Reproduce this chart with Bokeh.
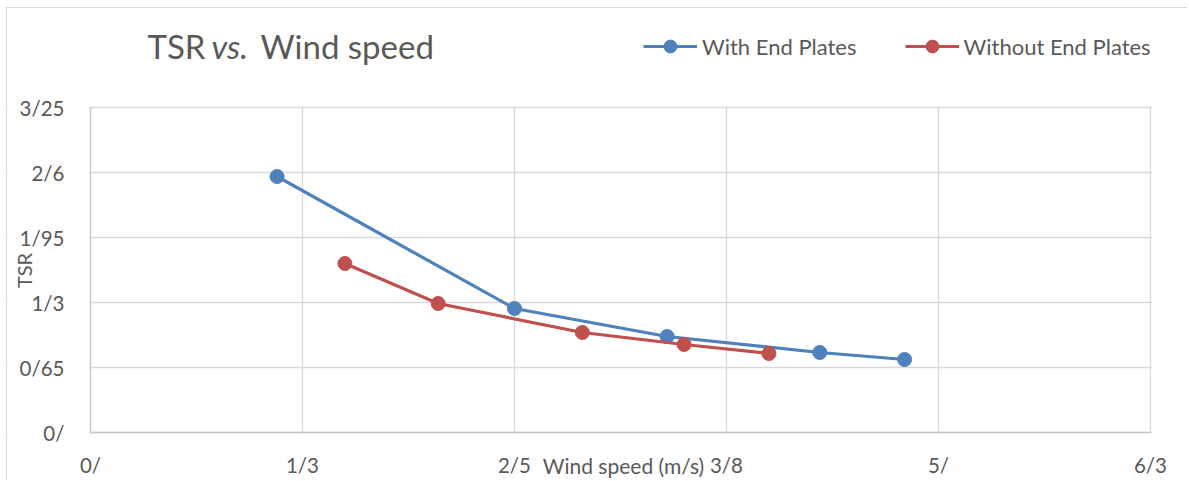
from bokeh.plotting import figure
from bokeh.models import Range1d, FixedTicker, Label, Legend, LegendItem, BoxAnnotation
from bokeh.embed import file_html
from bokeh.resources import INLINE
import math

# ---- data ----
wind_with = [1.10, 2.50, 3.40, 4.30, 4.80]
tsr_with = [2.56, 1.24, 0.96, 0.80, 0.73]
wind_without = [1.50, 2.05, 2.90, 3.50, 4.00]
tsr_without = [1.69, 1.29, 1.00, 0.88, 0.79]

x_ticks = [0, 1.25, 2.5, 3.75, 5.0, 6.25]
x_tick_labels = ["0/", "1/3", "2/5", "3/8", "5/", "6/3"]
y_ticks = [0, 0.65, 1.3, 1.95, 2.6, 3.25]
y_tick_labels = ["0/", "0/65", "1/3", "1/95", "2/6", "3/25"]

series_names = ["With End Plates", "Without End Plates"]
title_parts = ["TSR", "vs.", "Wind speed"]
x_title = "Wind speed (m/s)"
y_title = "TSR"

BLUE = "#4F81BD"
RED = "#C0504D"
TXT = "#595959"
GRID = "#d9d9d9"
FONT = "Lato"

# ---- layout (canvas pixels); the frame covers the whole canvas ----
W, H = 1181, 473
A_LEFT, A_RIGHT, A_TOP, A_BOTTOM = 83, 1143, 99, 424   # value area
sx_per = (A_RIGHT - A_LEFT) / (x_ticks[-1] - x_ticks[0])
sy_per = (A_BOTTOM - A_TOP) / (y_ticks[-1] - y_ticks[0])
x_lo = x_ticks[0] - A_LEFT / sx_per
x_hi = x_ticks[-1] + (W - A_RIGHT) / sx_per
y_lo = y_ticks[0] - (H - A_BOTTOM) / sy_per
y_hi = y_ticks[-1] + A_TOP / sy_per

p = figure(width=W, height=H, output_backend="svg", toolbar_location=None,
           x_range=Range1d(x_lo, x_hi), y_range=Range1d(y_lo, y_hi),
           min_border_left=0, min_border_right=0, min_border_top=0, min_border_bottom=0)
p.outline_line_color = None
p.background_fill_color = "white"
p.border_fill_color = "white"
p.styles = {"margin-left": "6px", "margin-top": "7px",
            "border-left": "1px solid #d9d9d9", "border-top": "1px solid #d9d9d9"}

for ax, ticks, labels in ((p.xaxis[0], x_ticks, x_tick_labels), (p.yaxis[0], y_ticks, y_tick_labels)):
    ax.ticker = FixedTicker(ticks=ticks)
    ax.major_label_overrides = {t: l for t, l in zip(ticks, labels)}
    ax.major_tick_line_color = None
    ax.minor_tick_line_color = None
    ax.axis_line_color = "#c8c8c8"
    ax.axis_line_width = 1.3
    ax.major_label_text_font = FONT
    ax.major_label_text_font_size = "20.5px"
    ax.major_label_text_color = TXT
    ax.bounds = (ticks[0], ticks[-1])
p.xaxis[0].fixed_location = y_ticks[0]
p.yaxis[0].fixed_location = x_ticks[0]
p.xaxis[0].major_label_standoff = 14
p.yaxis[0].major_label_standoff = 20

for g in (p.xgrid[0], p.ygrid[0]):
    g.grid_line_color = GRID
    g.grid_line_width = 1.3

# keep the grid inside the value area
ex, ey = 1.2 / sx_per, 1.2 / sy_per
for kw in (dict(bottom=y_ticks[-1] + ey), dict(top=y_ticks[0] - ey),
           dict(right=x_ticks[0] - ex), dict(left=x_ticks[-1] + ex)):
    p.add_layout(BoxAnnotation(fill_color="white", fill_alpha=1.0, line_color=None,
                               level="underlay", **kw))

l1 = p.line(wind_with, tsr_with, line_color=BLUE, line_width=3.2)
s1 = p.scatter(wind_with, tsr_with, size=14, fill_color=BLUE, line_color=BLUE)
l2 = p.line(wind_without, tsr_without, line_color=RED, line_width=3.2)
s2 = p.scatter(wind_without, tsr_without, size=14, fill_color=RED, line_color=RED)

legend = Legend(items=[LegendItem(label=series_names[0], renderers=[l1, s1]),
                       LegendItem(label=series_names[1], renderers=[l2, s2])],
                orientation="horizontal", location=(636, H - 54),
                glyph_width=54, glyph_height=32, label_height=32,
                label_standoff=5, spacing=48, padding=0, margin=0,
                label_text_font=FONT, label_text_font_size="22px", label_text_color=TXT,
                border_line_color=None, background_fill_alpha=0)
p.add_layout(legend, "center")

# title (mixed italic)
tx = [140, 204, 253]
styles = ["normal", "italic", "normal"]
for t, x, st in zip(title_parts, tx, styles):
    p.add_layout(Label(x=x, y=H - 37, x_units="screen", y_units="screen", text=t,
                       text_font=FONT, text_font_size="33px", text_font_style=st,
                       text_color=TXT, text_baseline="alphabetic", text_align="left"))

# axis titles
p.add_layout(Label(x=616, y=H - 457, x_units="screen", y_units="screen", text=x_title,
                   text_font=FONT, text_font_size="21px", text_color=TXT,
                   text_baseline="middle", text_align="center"))
p.add_layout(Label(x=16, y=H - 262, x_units="screen", y_units="screen", text=y_title,
                   angle=math.pi / 2, text_font=FONT, text_font_size="20px", text_color=TXT,
                   text_baseline="middle", text_align="center"))

open("out.html", "w").write(file_html(p, INLINE))
